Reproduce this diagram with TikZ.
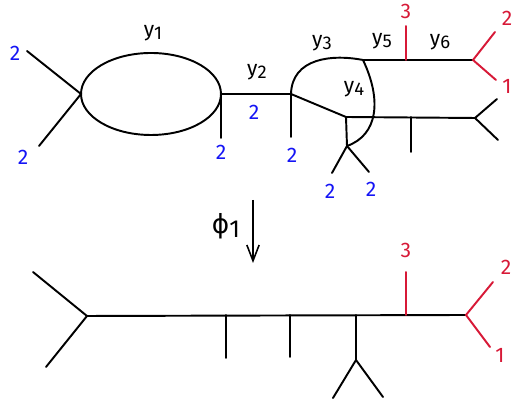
\documentclass[tikz,border=0pt]{standalone}
\usepackage{fontspec}
\setmainfont{Fira Sans}
\newfontfamily\greekfont{DejaVu Sans}
\usepackage{xcolor}
\usepackage{tikz}
\usetikzlibrary{arrows.meta, positioning, calc}
\definecolor{leafblue}{RGB}{20, 20, 245}
\definecolor{leafred}{RGB}{215, 25, 55}
\newcommand{\lowsub}[1]{\raisebox{-0.3ex}{\fontsize{10.5}{12}\selectfont #1}}

\begin{document}
\begin{tikzpicture}[
    x=0.02cm, y=-0.02cm,
    every node/.style={font=\fontsize{12}{14}\selectfont, inner sep=1pt},
    edge/.style={line width=1.1pt, line cap=round},
    redge/.style={edge, draw=leafred},
    bluelab/.style={text=leafblue},
    redlab/.style={text=leafred}
]
    \useasboundingbox (0,0) rectangle (512,404);

    % Top curve: junctions
    \coordinate (e1) at (81,94);
    \coordinate (e2) at (221,94);
    \coordinate (ja) at (291,94);
    \coordinate (jd) at (363,60);
    \coordinate (jr) at (473,60);
    \coordinate (jb) at (346,117);
    \coordinate (jc) at (347,146);
    \coordinate (jl) at (475,118);
    \coordinate (t3) at (406,60);
    \coordinate (tb) at (411,117);

    % leaf ends
    \coordinate (l1) at (27,51);
    \coordinate (l2) at (39,146);
    \coordinate (l3) at (221,138);
    \coordinate (l4) at (291,137);
    \coordinate (l5) at (332,173);
    \coordinate (l6) at (369,172);
    \coordinate (l7) at (411,152);
    \coordinate (l8) at (497,99);
    \coordinate (l9) at (498,140);
    \coordinate (r3) at (406,26);
    \coordinate (r2) at (495,32);
    \coordinate (r1) at (496,80);

    % Ellipse component
    \draw[edge] (151,94) ellipse [x radius=70, y radius=41];
    \draw[edge] (l1) -- (e1) -- (l2);
    \draw[edge] (e2) -- (l3);
    \draw[edge] (e2) -- (ja) -- (l4);

    % Right part
    \draw[edge] (ja) .. controls (292,58) and (332,54) .. (jd);
    \draw[edge] (jd) -- (jr);
    \draw[edge] (jd) .. controls (382,100) and (378,135) .. (jc);
    \draw[edge] (ja) -- (jb) -- (jl);
    \draw[edge] (jb) -- (jc);
    \draw[edge] (l5) -- (jc) -- (l6);
    \draw[edge] (tb) -- (l7);
    \draw[edge] (l8) -- (jl) -- (l9);
    \draw[redge] (t3) -- (r3);
    \draw[redge] (r2) -- (jr) -- (r1);

    % Labels, top
    \node (y1) at (153,33) {y\lowsub{1}};
    \node (y2) at (257,72) {y\lowsub{2}};
    \node (y3) at (322,43) {y\lowsub{3}};
    \node (y4) at (354,89) {y\lowsub{4}};
    \node (y5) at (382,41) {y\lowsub{5}};
    \node (y6) at (440,42) {y\lowsub{6}};
    \node[bluelab] (m1) at (15,53) {2};
    \node[bluelab] (m2) at (23,157) {2};
    \node[bluelab] (m3) at (221,152) {2};
    \node[bluelab] (m4) at (254,112) {2};
    \node[bluelab] (m5) at (292,155) {2};
    \node[bluelab] (m6) at (330,191) {2};
    \node[bluelab] (m7) at (371,189) {2};
    \node[redlab] (n3) at (406,11) {3};
    \node[redlab] (n2) at (507,18) {2};
    \node[redlab] (n1) at (507,86) {1};

    % Map
    \coordinate (atop) at (253,200);
    \coordinate (abot) at (253,263);
    \draw[line width=0.9pt, -{Straight Barb[length=9pt, width=7pt]}] (atop) -- (abot);
    \node (phi) at (226,226) {\fontsize{15}{17}\selectfont{\greekfont ϕ}\lowsub{\fontsize{14}{16}\selectfont 1}};

    % Bottom curve
    \coordinate (b1) at (87,316);
    \coordinate (b2) at (226,315);
    \coordinate (b3) at (290,315);
    \coordinate (b4) at (356,315);
    \coordinate (b5) at (406,315);
    \coordinate (b6) at (466,315);
    \coordinate (bc) at (356,360);
    \draw[edge] (33,272) -- (b1) -- (46,367);
    \draw[edge] (b1) -- (b6);
    \draw[edge] (b2) -- (226,358);
    \draw[edge] (b3) -- (290,357);
    \draw[edge] (b4) -- (bc);
    \draw[edge] (333,398) -- (bc) -- (383,397);
    \draw[redge] (b5) -- (406,272);
    \draw[redge] (493,282) -- (b6) -- (490,347);
    \node[redlab] (p3) at (406,250) {3};
    \node[redlab] (p2) at (506,267) {2};
    \node[redlab] (p1) at (500,355) {1};
\end{tikzpicture}
\end{document}
